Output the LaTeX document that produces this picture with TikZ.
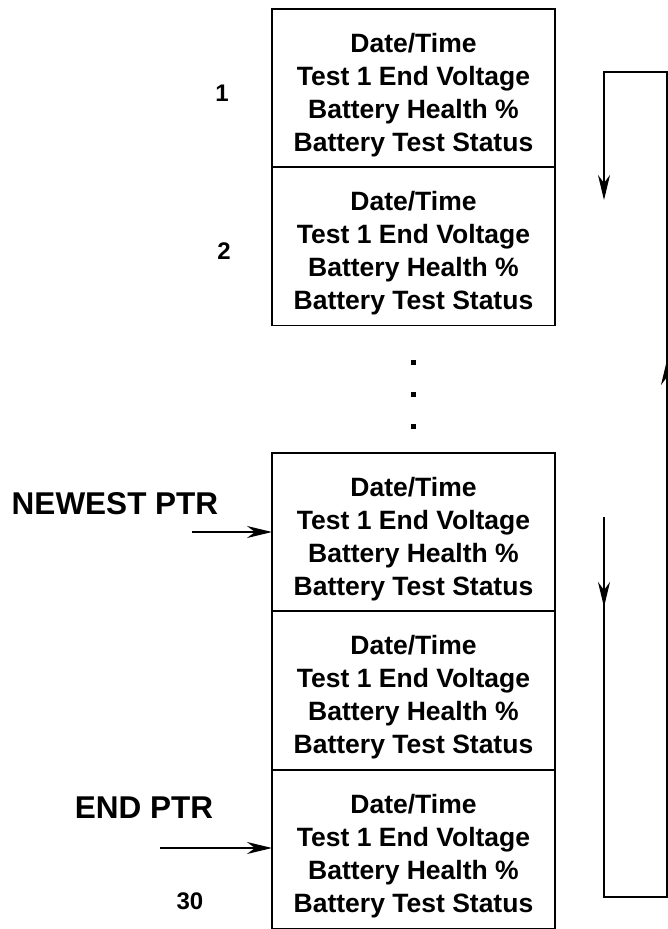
\documentclass[tikz,border=0pt]{standalone}
\usepackage{fontspec}
\setmainfont{Liberation Sans}
\usetikzlibrary{positioning,calc,arrows.meta,decorations.markings}
\newcommand{\slotfields}{\raisebox{-7pt}[\height][\depth]{\begin{tabular}{@{}c@{}}Date/Time\\Test 1 End Voltage\\Battery Health \%\\Battery Test Status\end{tabular}}}

\begin{document}
\begin{tikzpicture}[x=1pt, y=-1pt, node distance=0cm, outer sep=0pt,
    recbox/.style={draw, line width=1.4pt, minimum width=283pt, minimum height=158pt, inner sep=0pt, font=\fontsize{26.5}{33}\selectfont\bfseries},
    dotmark/.style={fill, inner sep=0pt, minimum size=5pt},
    numlabel/.style={font=\fontsize{24}{28}\selectfont\bfseries},
    ptrlabel/.style={font=\fontsize{31.5}{36}\selectfont\bfseries},
    ptrarrow/.style={line width=1.2pt, -{Stealth[length=25pt, width=12pt, inset=8pt]}}]
    \useasboundingbox (0,0) rectangle (668,929);
    % record slots
    \node [recbox] (R1) at (413.5,88) {\slotfields};
    \node [recbox] (R2) at (413.5,246.5) {\slotfields};
    \node [dotmark] (d1) at (413,362) {};
    \node [dotmark] (d2) at (413,394) {};
    \node [dotmark] (d3) at (413,426) {};
    \node [recbox] (R3) at (413.5,532) {\slotfields};
    \node [recbox] (R4) at (413.5,690.5) {\slotfields};
    \node [recbox] (R5) at (413.5,849.5) {\slotfields};
    % slot numbers
    \node [numlabel] (N1) at (222,93) {1};
    \node [numlabel] (N2) at (224,251) {2};
    \node [numlabel] (N30) at (190,901) {30};
    % pointers
    \node [ptrlabel] (newest) at (115,504) {NEWEST PTR};
    \node [ptrlabel] (endptr) at (144,808) {END PTR};
    \coordinate (newtail) at (192,532);
    \coordinate (endtail) at (160,848);
    \draw [ptrarrow] (newtail) -- (R3.west);
    \draw [ptrarrow] (endtail) -- ($(R5.west)+(0,-1.5)$);
    % wrap-around loop
    \coordinate (lo) at (604,517);
    \coordinate (lb) at (604,897);
    \coordinate (rb) at (667,897);
    \coordinate (rt) at (667,72);
    \coordinate (lt) at (604,72);
    \coordinate (hi) at (604,200);
    \draw [line width=1.2pt, -{Stealth[length=25pt, width=12pt, inset=8pt]},
        decoration={markings,
            mark=at position 90pt with {\arrow{Stealth[length=25pt, width=12pt, inset=8pt]}},
            mark=at position 980pt with {\arrow{Stealth[length=25pt, width=12pt, inset=8pt]}}},
        postaction={decorate}]
        (lo) -- (lb) -- (rb) -- (rt) -- (lt) -- (hi);
\end{tikzpicture}
\end{document}
